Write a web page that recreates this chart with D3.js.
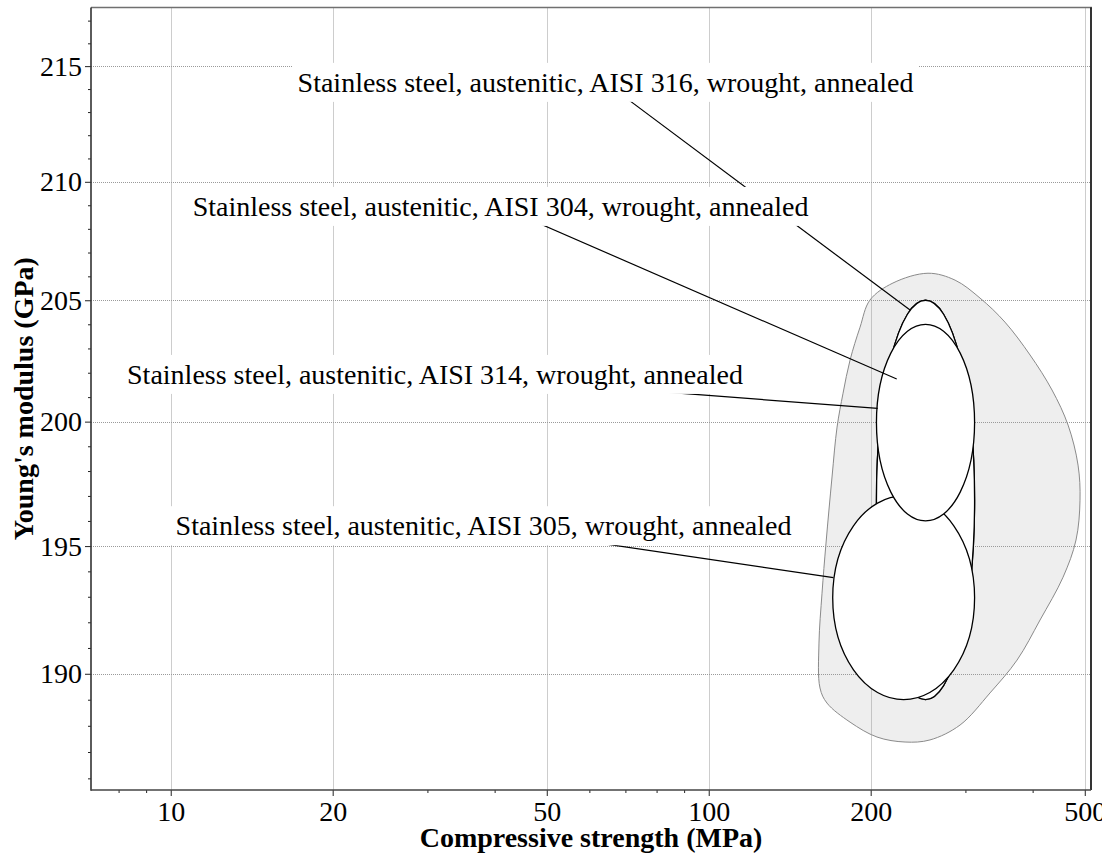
<!DOCTYPE html>
<html>
<head>
<meta charset="utf-8">
<script src="https://cdn.jsdelivr.net/npm/d3@7"></script>
<style>
  html, body { margin: 0; padding: 0; background: #fff; }
  svg { display: block; overflow: hidden; }
  text { font-family: "Liberation Serif", "Times New Roman", serif; }
</style>
</head>
<body>
<svg id="chart" width="1102" height="861"></svg>
<script>
// Axis extents (log scales on both axes)
const strengthExtent = [7.109, 513.5];   // MPa
const modulusExtent = [185.56, 217.58];  // GPa

// Tick values
const strengthTicks = [10, 20, 50, 100, 200, 500];
const strengthMinorTicks = [8, 9, 30, 40, 60, 70, 80, 90, 300, 400];
const modulusTicks = [190, 195, 200, 205, 210, 215];
const modulusMinorTicks = [186, 187, 188, 189, 191, 192, 193, 194, 196, 197, 198, 199,
                           201, 202, 203, 204, 206, 207, 208, 209, 211, 212, 213, 214, 216, 217];

// Materials, in drawing order
const materialNames = [
  "Stainless steel, austenitic, AISI 304, wrought, annealed",
  "Stainless steel, austenitic, AISI 316, wrought, annealed",
  "Stainless steel, austenitic, AISI 305, wrought, annealed",
  "Stainless steel, austenitic, AISI 314, wrought, annealed"
];
const strengthLow  = [205, 205, 170, 205];
const strengthHigh = [312, 312, 312, 312];
const modulusLow   = [189, 189, 189, 196];
const modulusHigh  = [205, 205, 197, 204];

// Label placement (label centre) and leader target, in data units
const labelStrength  = [41.03, 64.3, 38.14, 30.99];
const labelModulus   = [208.94, 214.28, 195.80, 201.92];
const anchorStrength = [223.6, 236.7, 170.5, 206.1];
const anchorModulus  = [201.74, 204.59, 193.75, 200.54];

// Family envelope outline (strength MPa, modulus GPa), clockwise from the top
const envelopeStrength = [255.6, 287.0, 319.4, 355.3, 395.6, 434.6, 465.5, 485.8, 489.9, 481.6,
                          455.6, 412.9, 374.2, 333.3, 293.2, 257.8, 231.7, 205.5, 183.1, 165.9,
                          161.0, 160.3, 162.4, 165.2, 169.5, 173.2, 177.7, 183.1, 191.1, 199.4, 220.0];
const envelopeModulus  = [206.13, 205.84, 205.09, 204.09, 202.73, 201.29, 199.86, 198.24, 196.83, 195.24,
                          193.77, 192.09, 190.53, 189.26, 188.03, 187.46, 187.38, 187.57, 188.14, 188.87,
                          189.45, 191.19, 193.14, 195.12, 197.76, 199.78, 201.16, 202.52, 203.88, 205.01, 205.72];

const plot = { left: 91, right: 1091, top: 7.5, bottom: 790 };
const svg = d3.select("#chart");

const x = d3.scaleLog().domain(strengthExtent).range([plot.left, plot.right]);
const y = d3.scaleLog().domain(modulusExtent).range([plot.bottom, plot.top]);
const crisp = v => Math.round(v) + 0.5;

// Envelope
const envPoints = envelopeStrength.map((s, i) => [x(s), y(envelopeModulus[i])]);
svg.append("path")
  .attr("d", d3.line().curve(d3.curveCatmullRomClosed.alpha(0.5))(envPoints))
  .attr("fill", "#eeeeee")
  .attr("stroke", "#8a8a8a")
  .attr("stroke-width", 1);

// Grid
const grid = svg.append("g").attr("stroke", "#9a9a9a").attr("stroke-width", 1).attr("stroke-dasharray", "1,1");
grid.selectAll("line.v").data(strengthTicks).join("line")
  .attr("x1", d => crisp(x(d))).attr("x2", d => crisp(x(d)))
  .attr("y1", plot.top).attr("y2", plot.bottom);
grid.selectAll("line.h").data(modulusTicks).join("line")
  .attr("y1", d => crisp(y(d))).attr("y2", d => crisp(y(d)))
  .attr("x1", plot.left).attr("x2", plot.right);

// Material ellipses (log-log space maps to pixel ellipses)
svg.append("g").selectAll("ellipse").data(materialNames).join("ellipse")
  .attr("cx", (d, i) => (x(strengthLow[i]) + x(strengthHigh[i])) / 2)
  .attr("cy", (d, i) => (y(modulusLow[i]) + y(modulusHigh[i])) / 2)
  .attr("rx", (d, i) => Math.abs(x(strengthHigh[i]) - x(strengthLow[i])) / 2)
  .attr("ry", (d, i) => Math.abs(y(modulusLow[i]) - y(modulusHigh[i])) / 2)
  .attr("fill", "#ffffff")
  .attr("stroke", "#000")
  .attr("stroke-width", 1.3);

// Leader lines
svg.append("g").selectAll("line").data(materialNames).join("line")
  .attr("x1", (d, i) => x(labelStrength[i]))
  .attr("y1", (d, i) => y(labelModulus[i]))
  .attr("x2", (d, i) => x(anchorStrength[i]))
  .attr("y2", (d, i) => y(anchorModulus[i]))
  .attr("stroke", "#000")
  .attr("stroke-width", 1.2);

// Labels on white boxes
const labels = svg.append("g");
materialNames.forEach((name, i) => {
  const g = labels.append("g");
  const t = g.append("text")
    .attr("x", x(labelStrength[i]))
    .attr("y", y(labelModulus[i]))
    .attr("dy", "0.33em")
    .attr("text-anchor", "middle")
    .attr("font-size", 28)
    .attr("fill", "#000")
    .text(name);
  const b = t.node().getBBox();
  g.insert("rect", "text")
    .attr("x", b.x - 5).attr("y", b.y - 4)
    .attr("width", b.width + 10).attr("height", b.height + 8)
    .attr("fill", "#fff");
});

// Axes
const styleAxis = g => {
  g.selectAll(".domain").remove();
  g.selectAll(".tick line").attr("stroke", "#222").attr("stroke-width", 1);
  g.selectAll(".tick text").attr("font-size", 28).attr("fill", "#000")
    .attr("font-family", "Liberation Serif, Times New Roman, serif");
};

svg.append("g").attr("transform", `translate(0,${plot.bottom})`)
  .call(d3.axisBottom(x).tickValues(strengthTicks).tickSize(6).tickPadding(5)
    .tickFormat(d3.format("d")).tickSizeOuter(0))
  .call(styleAxis);
svg.append("g").attr("transform", `translate(0,${plot.bottom})`)
  .call(d3.axisBottom(x).tickValues(strengthMinorTicks).tickSize(3).tickFormat(""))
  .call(styleAxis);
svg.append("g").attr("transform", `translate(${plot.left},0)`)
  .call(d3.axisLeft(y).tickValues(modulusTicks).tickSize(6).tickPadding(3)
    .tickFormat(d3.format("d")).tickSizeOuter(0))
  .call(styleAxis);
svg.append("g").attr("transform", `translate(${plot.left},0)`)
  .call(d3.axisLeft(y).tickValues(modulusMinorTicks).tickSize(3).tickFormat(""))
  .call(styleAxis);

// Frame
svg.append("line").attr("x1", plot.left).attr("x2", plot.right + 1)
  .attr("y1", plot.top).attr("y2", plot.top).attr("stroke", "#707070").attr("stroke-width", 1.6);
svg.append("line").attr("x1", plot.right).attr("x2", plot.right)
  .attr("y1", plot.top).attr("y2", plot.bottom).attr("stroke", "#000").attr("stroke-width", 1.6);
svg.append("line").attr("x1", plot.left).attr("x2", plot.left)
  .attr("y1", plot.top).attr("y2", plot.bottom + 0.8).attr("stroke", "#333").attr("stroke-width", 1.6);
svg.append("line").attr("x1", plot.left).attr("x2", plot.right)
  .attr("y1", plot.bottom).attr("y2", plot.bottom).attr("stroke", "#444").attr("stroke-width", 1.6);

// Axis titles
svg.append("text")
  .attr("x", (plot.left + plot.right) / 2).attr("y", 847)
  .attr("text-anchor", "middle").attr("font-size", 28).attr("font-weight", "bold")
  .text("Compressive strength (MPa)");
svg.append("text")
  .attr("transform", `translate(33,${(plot.top + plot.bottom) / 2}) rotate(-90)`)
  .attr("text-anchor", "middle").attr("font-size", 28).attr("font-weight", "bold")
  .text("Young's modulus (GPa)");
</script>
</body>
</html>
